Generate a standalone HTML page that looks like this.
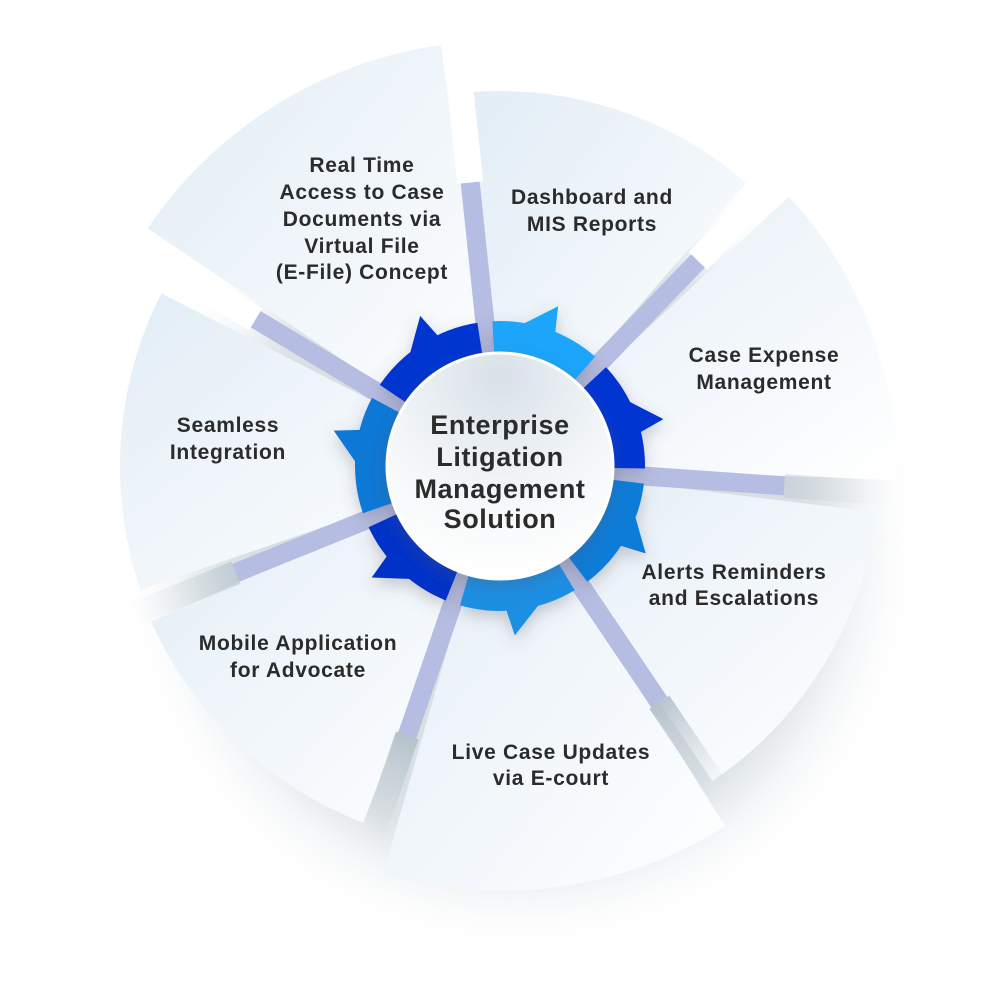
<!DOCTYPE html>
<html><head><meta charset="utf-8"><style>
html,body{margin:0;padding:0;background:#fff;width:1000px;height:1000px;overflow:hidden}
svg{display:block}
text{font-family:"Liberation Sans",sans-serif;font-weight:bold;fill:#2b2b2b;text-anchor:middle}
</style></head><body>
<svg id="s" width="1000" height="1000" viewBox="0 0 1000 1000" xmlns="http://www.w3.org/2000/svg">
<defs id="defs">
<linearGradient id="wg" x1="0" y1="0" x2="1" y2="1"><stop offset="0" stop-color="#e2edf6"/><stop offset="1" stop-color="#ffffff"/></linearGradient>
<radialGradient id="cg" cx="0.5" cy="0.1" r="0.9"><stop offset="0" stop-color="#d8e1e8"/><stop offset="0.6" stop-color="#f4f7f9"/><stop offset="1" stop-color="#ffffff"/></radialGradient>
<radialGradient id="bgsh" cx="0.5" cy="0.5" r="0.5"><stop offset="0.75" stop-color="#c9d2d8" stop-opacity="0.7"/><stop offset="1" stop-color="#ffffff" stop-opacity="0"/></radialGradient>
<filter id="blur" filterUnits="userSpaceOnUse" x="0" y="0" width="1000" height="1000"><feGaussianBlur stdDeviation="18"/></filter>
<filter id="ds" filterUnits="userSpaceOnUse" x="0" y="0" width="1000" height="1000"><feDropShadow dx="0" dy="6" stdDeviation="8" flood-color="#556" flood-opacity="0.3"/></filter>
</defs>
<ellipse cx="520" cy="540" rx="400" ry="410" fill="url(#bgsh)" filter="url(#blur)"/>
<g id="wedges"></g>
<g id="bars"></g>
<g id="ring" filter="url(#ds)"></g>
<circle cx="500" cy="466" r="113" fill="url(#cg)" stroke="#ffffff" stroke-width="3" filter="url(#ds)"/>
<g font-size="27" letter-spacing="0.6">
<text x="500" y="434">Enterprise</text>
<text x="500" y="466">Litigation</text>
<text x="500" y="498">Management</text>
<text x="500" y="528">Solution</text>
</g>
<g font-size="21" letter-spacing="0.7">
<text x="362" y="172">Real Time</text>
<text x="362" y="199">Access to Case</text>
<text x="362" y="226">Documents via</text>
<text x="362" y="253">Virtual File</text>
<text x="362" y="279">(E-File) Concept</text>
<text x="592" y="204">Dashboard and</text>
<text x="592" y="231">MIS Reports</text>
<text x="764" y="362">Case Expense</text>
<text x="764" y="389">Management</text>
<text x="228" y="432">Seamless</text>
<text x="228" y="459">Integration</text>
<text x="734" y="579">Alerts Reminders</text>
<text x="734" y="605">and Escalations</text>
<text x="298" y="650">Mobile Application</text>
<text x="298" y="677">for Advocate</text>
<text x="551" y="759">Live Case Updates</text>
<text x="551" y="785">via E-court</text>
</g>
</svg>
<script>
(function(){
var cx=500,cy=466,NS="http://www.w3.org/2000/svg";
function P(a,r){var t=a*Math.PI/180;return [cx+r*Math.cos(t),cy+r*Math.sin(t)];}
function el(n,at,p){var e=document.createElementNS(NS,n);for(var k in at)e.setAttribute(k,at[k]);(typeof p==="string"?document.getElementById(p):p).appendChild(e);return e;}
var W=[[-146,-98,425],[-94,-49,375],[-43,2,395],[7,56,380],[58,106,425],[111,156,382],[161,207,380]];
W.forEach(function(w){var b=P(w[0],w[2]),c=P(w[1],w[2]);
el("path",{d:"M"+cx+","+cy+" L"+b[0]+","+b[1]+" A"+w[2]+","+w[2]+" 0 0 1 "+c[0]+","+c[1]+" Z",fill:"url(#wg)"},"wedges");});
var B=[-96,-46,4,56,109,158,211];
var G={4:0.35,56:0.85,109:0.85,158:0.55};
B.forEach(function(a,i){var s=P(a,100),e=P(a,285),g=P(a,395);
if(G[a]){
 var lg=el("linearGradient",{id:"bg"+i,gradientUnits:"userSpaceOnUse",x1:e[0],y1:e[1],x2:g[0],y2:g[1]},"defs");
 el("stop",{offset:"0","stop-color":"#aebcc5","stop-opacity":G[a]},lg);
 el("stop",{offset:"1","stop-color":"#c8d2d8","stop-opacity":"0"},lg);
 el("line",{x1:e[0],y1:e[1],x2:g[0],y2:g[1],stroke:"url(#bg"+i+")","stroke-width":24},"bars");
}
else{el("line",{x1:e[0],y1:e[1],x2:g[0],y2:g[1],stroke:"#ffffff","stroke-width":26},"bars");}
el("line",{x1:s[0],y1:s[1],x2:e[0],y2:e[1],stroke:"#b6bde2","stroke-width":19},"bars");});
var cols=["#1fa5fb","#0535d2","#0a7bd8","#1c8fe3","#0533c8","#0a78d6","#0536d0"];
var teeth=[-74,-20,27,81,135,188,-122];
for(var i=0;i<7;i++){var a0=B[i]+3,a1=(i<6?B[i+1]:B[0]+360)-3,R=145,r=105;
var p0=P(a0,R),p1=P(a1,R),q1=P(a1,r),q0=P(a0,r);
el("path",{d:"M"+p0+" A"+R+","+R+" 0 0 1 "+p1+" L"+q1+" A"+r+","+r+" 0 0 0 "+q0+" Z",fill:cols[i]},"ring");
var t=teeth[i];var b1=P(t-9,140),b2=P(t+7,140),tp=P(t+4,170);
el("path",{d:"M"+b1+" L"+tp+" L"+b2+" Z",fill:cols[i]},"ring");}
})();
</script>
</body></html>
